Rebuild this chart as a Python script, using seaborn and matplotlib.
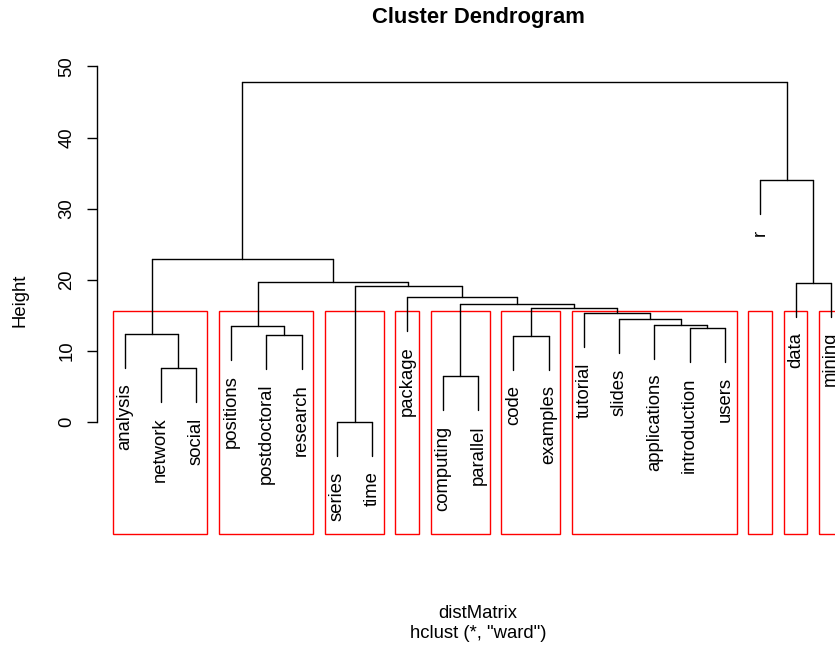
import pandas as pd
import matplotlib.pyplot as plt
import seaborn as sns
from matplotlib.patches import Rectangle

# leaf labels, in dendrogram order
labels = ['analysis', 'network', 'social', 'positions', 'postdoctoral', 'research',
          'series', 'time', 'package', 'computing', 'parallel', 'code', 'examples',
          'tutorial', 'slides', 'applications', 'introduction', 'users',
          'r', 'data', 'mining']

# merge steps, R style: negative = leaf number (1-based), positive = earlier merge
merge_left = [-7, -10, -2, -12, -5, -1, -17, -4, -16, -15, -14, 4, 2, -9, 1, -20, 8, 6, -19, 18]
merge_right = [-8, -11, -3, -13, -6, 3, -18, 5, 7, 9, 10, 11, 12, 13, 14, -21, 15, 17, 16, 19]
merge_height = [0.0, 6.45, 7.6, 12.1, 12.3, 12.4, 13.25, 13.5, 13.7, 14.5, 15.3,
                16.05, 16.6, 17.6, 19.1, 19.6, 19.75, 22.9, 34.0, 47.75]

# rect.hclust(k = 10) cluster sizes, left to right
cluster_sizes = [3, 3, 2, 1, 2, 2, 5, 1, 1, 1]
k = 10

y_ticks = [0, 10, 20, 30, 40, 50]


def build_segments():
    hang = 0.1 * (max(merge_height) - min(merge_height))
    leaf_x = {i + 1: float(i + 1) for i in range(len(labels))}
    node_x, node_y = {}, {}
    leaf_y = {}
    rows = []
    seg = 0
    for n, (a, b, h) in enumerate(zip(merge_left, merge_right, merge_height), start=1):
        xs = []
        for c in (a, b):
            if c < 0:
                cx, cy = leaf_x[-c], h - hang
                leaf_y[-c] = cy
            else:
                cx, cy = node_x[c], node_y[c]
            xs.append(cx)
            rows += [(seg, cx, cy), (seg, cx, h)]
            seg += 1
        rows += [(seg, xs[0], h), (seg, xs[1], h)]
        seg += 1
        node_x[n] = sum(xs) / 2
        node_y[n] = h
    return pd.DataFrame(rows, columns=['seg', 'x', 'y']), leaf_y


sns.set_theme(style="white", rc={'text.color': 'black', 'axes.labelcolor': 'black',
                                 'xtick.color': 'black', 'ytick.color': 'black'})
plt.rcParams['font.family'] = ['Liberation Sans', 'DejaVu Sans']

fig = plt.figure(figsize=(8.35, 6.48), dpi=100)
W, H = 835, 648
ax = fig.add_axes([97 / W, (H - 534) / H, 762 / W, 469 / H])

segs, leaf_y = build_segments()
sns.lineplot(data=segs, x='x', y='y', units='seg', estimator=None, sort=False,
             color='black', linewidth=1.0, ax=ax)

ax.set_xlim(0.2, 21.8)
ax.set_ylim(-15.7, 50.19)

# leaf labels hanging below the leaf ends
for i, lab in enumerate(labels, start=1):
    ax.annotate(lab, xy=(i, leaf_y[i]), xytext=(0, -11), textcoords='offset points',
                rotation=90, ha='center', va='top', fontsize=13.3, color='black')

# red cluster boxes
cut = sum(sorted(merge_height, reverse=True)[k - 2:k]) / 2
ybot = ax.get_ylim()[0]
m = 0
for size in cluster_sizes:
    left = m + 0.66
    right = m + size + 0.33
    ax.add_patch(Rectangle((left, ybot), right - left, cut - ybot, fill=False,
                           edgecolor='red', linewidth=1.0, clip_on=False))
    m += size

# axes styling like base R
for side in ['top', 'right', 'bottom']:
    ax.spines[side].set_visible(False)
ax.spines['left'].set_bounds(0, 50)
ax.spines['left'].set_color('black')
ax.spines['left'].set_linewidth(1.0)
ax.set_xticks([])
ax.set_yticks(y_ticks)
ax.set_yticklabels([str(t) for t in y_ticks], rotation=90, va='center', fontsize=13.3,
                   color='black')
ax.tick_params(axis='y', direction='out', length=7.5, width=1.0, pad=8, color='black',
               left=True)
ax.set_xlabel('')
ax.set_ylabel('')

fig.text(20 / W, 1 - 300 / H, 'Height', rotation=90, ha='center', va='center',
         fontsize=13.3, color='black')
fig.text(478 / W, 1 - 18 / H, 'Cluster Dendrogram', ha='center', va='center',
         fontsize=15.8, fontweight='bold', color='black')
fig.text(478 / W, 1 - 613 / H, 'distMatrix', ha='center', va='center', fontsize=13.3,
         color='black')
fig.text(478 / W, 1 - 634 / H, 'hclust (*, "ward")', ha='center', va='center',
         fontsize=13.3, color='black')

plt.savefig('out.png', dpi=100)
